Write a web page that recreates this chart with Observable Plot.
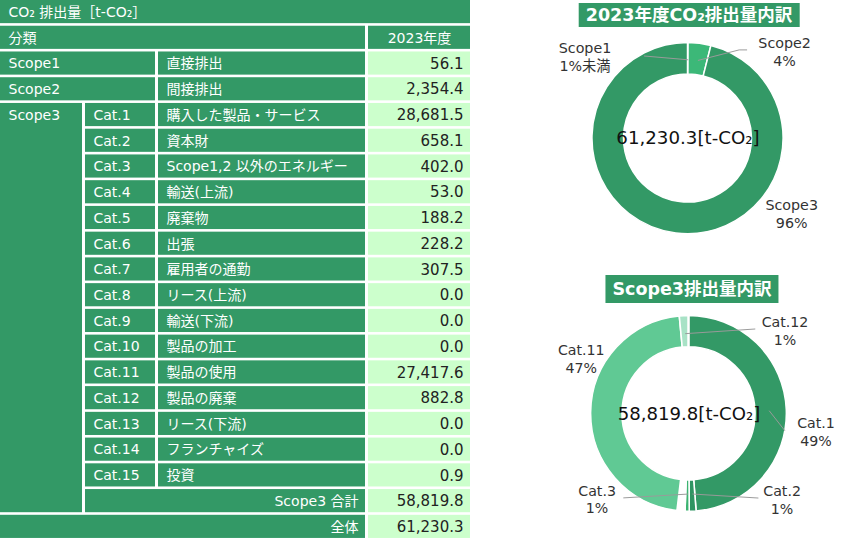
<!DOCTYPE html>
<html><head><meta charset="utf-8">
<script src="https://cdn.jsdelivr.net/npm/d3@7"></script>
<script src="https://cdn.jsdelivr.net/npm/@observablehq/plot@0.6"></script>
<style>
body{margin:0;background:#fff;}
#wrap{position:relative;width:850px;height:538px;overflow:hidden;font-family:"DejaVu Sans","Noto Sans CJK JP",sans-serif;}
.part{position:absolute;}
.ttl{position:absolute;background:#339966;color:#fff;font-weight:bold;font-size:17.5px;padding:0 7px;transform:translateX(-50%);white-space:nowrap;font-family:"DejaVu Sans","Noto Sans CJK JP",sans-serif;}
</style></head><body><div id="wrap"></div>
<script>
// ---------- data ----------
const tableTitle = "CO₂ 排出量［t-CO₂］";
const groupHeader = "分類";
const yearLabel = "2023年度";
const scopeNames = ["Scope1", "Scope2", "Scope3"];
const scopeDescs = ["直接排出", "間接排出"];
const scopeValues = [56.1, 2354.4];
const catNames = ["Cat.1","Cat.2","Cat.3","Cat.4","Cat.5","Cat.6","Cat.7","Cat.8","Cat.9","Cat.10","Cat.11","Cat.12","Cat.13","Cat.14","Cat.15"];
const catDescs = ["購入した製品・サービス","資本財","Scope1,2 以外のエネルギー","輸送(上流)","廃棄物","出張","雇用者の通勤","リース(上流)","輸送(下流)","製品の加工","製品の使用","製品の廃棄","リース(下流)","フランチャイズ","投資"];
const catValues = [28681.5, 658.1, 402.0, 53.0, 188.2, 228.2, 307.5, 0.0, 0.0, 0.0, 27417.6, 882.8, 0.0, 0.0, 0.9];
const scope3TotalLabel = "Scope3 合計";
const grandTotalLabel = "全体";
const unitLabel = "[t-CO₂]";

const donut1Title = "2023年度CO₂排出量内訳";
const donut1Labels = ["Scope1", "Scope2", "Scope3"];
const donut1Pcts = ["1%未満", "4%", "96%"];
const donut2Title = "Scope3排出量内訳";
const donut2Labels = ["Cat.1", "Cat.2", "Cat.3", "Cat.11", "Cat.12"];
const donut2Pcts = ["49%", "1%", "1%", "47%", "1%"];

// ---------- styles / layout ----------
const FONT = "'DejaVu Sans','Noto Sans CJK JP',sans-serif";
const GREEN = "#339966", LIGHT = "#ccffcc";
const colEdges = [0, 85, 158, 368, 473];   // table column boundaries (px)
const rowPitch = 25.74;
const donut1Colors = ["#a0dcbc", "#3cb878", "#339966"];
const donut2Colors = ["#339966","#2f9462","#3cb371","#ffffff","#ffffff","#ffffff","#ffffff","#ffffff","#ffffff","#ffffff","#60c994","#a8e2c6","#ffffff","#ffffff","#ffffff"];
// label placement: [angle deg clockwise from 12 o'clock, radius px]
const donut1Layout = {
  "Scope1": {end: [332, 95], label: [308.7, 134]},
  "Scope2": {end: [30, 104], tail: 8, label: [48, 132]},
  "Scope3": {label: [125.9, 130]}
};
const donut2Layout = {
  "Cat.1": {end: [100, 99.5], label: [97.9, 131]},
  "Cat.2": {end: [140.5, 111.5], label: [132.5, 129]},
  "Cat.3": {end: [218, 109], label: [227.2, 128]},
  "Cat.11": {label: [297.4, 124]},
  "Cat.12": {end: [38, 110], label: [49, 130]}
};

const fmt = d3.format(",.1f");
const scope3Total = d3.sum(catValues);
const grandTotal = d3.sum(scopeValues) + scope3Total;
const wrap = document.getElementById("wrap");

// ---------- table ----------
const cells = [], texts = [];
const cell = (c1, c2, r1, r2, fill) => cells.push({x1: colEdges[c1], x2: colEdges[c2], r1, r2, fill});
const txt = (c1, c2, r, text, align, color, size = 14) => texts.push({x1: colEdges[c1], x2: colEdges[c2], r, text, align, color, size});

cell(0, 4, 0, 1, GREEN); txt(0, 4, 0, tableTitle, "start", "#fff");
cell(0, 3, 1, 2, GREEN); txt(0, 3, 1, groupHeader, "start", "#fff");
cell(3, 4, 1, 2, GREEN); txt(3, 4, 1, yearLabel, "middle", "#fff");
scopeValues.forEach((v, i) => {
  const r = 2 + i;
  cell(0, 2, r, r + 1, GREEN); txt(0, 2, r, scopeNames[i], "start", "#fff");
  cell(2, 3, r, r + 1, GREEN); txt(2, 3, r, scopeDescs[i], "start", "#fff");
  cell(3, 4, r, r + 1, LIGHT); txt(3, 4, r, fmt(v), "end", "#222", 15);
});
const r0 = 2 + scopeValues.length;
cell(0, 1, r0, r0 + catNames.length + 1, GREEN); txt(0, 1, r0, scopeNames[2], "start", "#fff");
catValues.forEach((v, i) => {
  const r = r0 + i;
  cell(1, 2, r, r + 1, GREEN); txt(1, 2, r, catNames[i], "start", "#fff");
  cell(2, 3, r, r + 1, GREEN); txt(2, 3, r, catDescs[i], "start", "#fff");
  cell(3, 4, r, r + 1, LIGHT); txt(3, 4, r, fmt(v), "end", "#222", 15);
});
const rT = r0 + catNames.length;
cell(1, 3, rT, rT + 1, GREEN); txt(1, 3, rT, scope3TotalLabel, "end", "#fff");
cell(3, 4, rT, rT + 1, LIGHT); txt(3, 4, rT, fmt(scope3Total), "end", "#222", 15);
cell(0, 3, rT + 1, rT + 2, GREEN); txt(0, 3, rT + 1, grandTotalLabel, "end", "#fff");
cell(3, 4, rT + 1, rT + 2, LIGHT); txt(3, 4, rT + 1, fmt(grandTotal), "end", "#222", 15);
const nRows = rT + 2;

const textOpts = {y: d => d.r + 0.5, text: "text", fill: "color", fontSize: "size", dy: -1, fontFamily: FONT};
const tablePlot = Plot.plot({
  width: 473, height: 538, margin: 0,
  x: {domain: [0, 473], range: [0, 473], axis: null},
  y: {domain: [0, nRows], range: [0, nRows * rowPitch], axis: null},
  color: {type: "identity"},
  style: {fontFamily: FONT, background: "transparent", overflow: "visible"},
  marks: [
    Plot.rect(cells, {x1: "x1", x2: "x2", y1: "r1", y2: "r2", fill: "fill", insetRight: 3, insetBottom: 2.6}),
    Plot.text(texts.filter(d => d.align === "start"), {...textOpts, x: "x1", textAnchor: "start", dx: 8}),
    Plot.text(texts.filter(d => d.align === "end"), {...textOpts, x: "x2", textAnchor: "end", dx: -10}),
    Plot.text(texts.filter(d => d.align === "middle"), {...textOpts, x: d => (d.x1 + d.x2) / 2, textAnchor: "middle", dx: -1.5})
  ]
});
const tdiv = document.createElement("div");
tdiv.className = "part"; tdiv.style.left = "0px"; tdiv.style.top = "0px";
tdiv.appendChild(tablePlot); wrap.appendChild(tdiv);

// ---------- donuts ----------
function donutChart({names, values, colors, labelNames, labelPcts, layout, rOuter, rInner, rAnchor, centerText, stroke}) {
  const W = 330, H = 250;
  const color = Plot.scale({color: {type: "ordinal", domain: names, range: colors}});
  const arcs = d3.pie().sort(null).value(d => d)(values);
  const byName = new Map(names.map((n, i) => [n, arcs[i]]));
  const pt = (deg, r) => [r * Math.sin(deg * Math.PI / 180), -r * Math.cos(deg * Math.PI / 180)];
  const labels = [], leaders = [];
  labelNames.forEach((n, i) => {
    const a = byName.get(n);
    const mid = (a.startAngle + a.endAngle) / 2 * 180 / Math.PI;
    const L = layout[n];
    const [lx, ly] = pt(L.label[0], L.label[1]);
    labels.push({name: n, pct: labelPcts[i], lx, ly});
    if (L.end) {
      const [ax, ay] = pt(mid, rAnchor);
      const [ex, ey] = pt(L.end[0], L.end[1]);
      leaders.push({ax, ay, ex, ey});
      if (L.tail) leaders.push({ax: ex, ay: ey, ex: ex + L.tail, ey});
    }
  });
  return Plot.plot({
    width: W, height: H, margin: 0,
    x: {domain: [-W / 2, W / 2], range: [0, W], axis: null},
    y: {domain: [-H / 2, H / 2], range: [0, H], axis: null},
    style: {fontFamily: FONT, background: "transparent", overflow: "visible"},
    marks: [
      (index, scales) => {
        const cx = scales.x(0), cy = scales.y(0);
        const ro = scales.x(rOuter) - cx, ri = scales.x(rInner) - cx;
        const arc = d3.arc().innerRadius(ri).outerRadius(ro);
        const g = d3.create("svg:g").attr("transform", `translate(${cx},${cy})`);
        g.selectAll("path").data(arcs).join("path")
          .attr("d", arc)
          .attr("fill", (d, i) => color.apply(names[i]))
          .attr("stroke", "#fff")
          .attr("stroke-width", stroke);
        return g.node();
      },
      Plot.link(leaders, {x1: "ax", y1: "ay", x2: "ex", y2: "ey", stroke: "#9a9a9a", strokeWidth: 1}),
      Plot.text(labels, {x: "lx", y: "ly", text: d => d.name + "\n" + d.pct, fontSize: 14.5, lineHeight: 1.25, fill: "#333", fontFamily: FONT}),
      Plot.text([centerText], {x: () => 0, y: () => 0, text: d => d, fontSize: 18.5, fill: "#111", fontFamily: FONT})
    ]
  });
}

function place(node, left, top) {
  const d = document.createElement("div");
  d.className = "part"; d.style.left = left + "px"; d.style.top = top + "px";
  d.appendChild(node); wrap.appendChild(d);
}

const d1 = donutChart({
  names: donut1Labels, values: [scopeValues[0], scopeValues[1], scope3Total], colors: donut1Colors,
  labelNames: donut1Labels, labelPcts: donut1Pcts, layout: donut1Layout,
  rOuter: 97, rInner: 65, rAnchor: 80, centerText: fmt(grandTotal) + unitLabel, stroke: 1.5
});
place(d1, 690 - 165, 140 - 125);

const d2 = donutChart({
  names: catNames, values: catValues, colors: donut2Colors,
  labelNames: donut2Labels, labelPcts: donut2Pcts, layout: donut2Layout,
  rOuter: 100, rInner: 68, rAnchor: 82, centerText: fmt(scope3Total) + unitLabel, stroke: 1.6
});
place(d2, 692 - 165, 416 - 125);

// titles
function title(text, cx, top, h) {
  const t = document.createElement("div");
  t.className = "ttl"; t.textContent = text;
  t.style.left = cx + "px"; t.style.top = top + "px";
  t.style.height = h + "px"; t.style.lineHeight = h + "px";
  wrap.appendChild(t);
}
title(donut1Title, 689, 3, 24);
title(donut2Title, 692, 275, 28);
</script>
</body></html>
